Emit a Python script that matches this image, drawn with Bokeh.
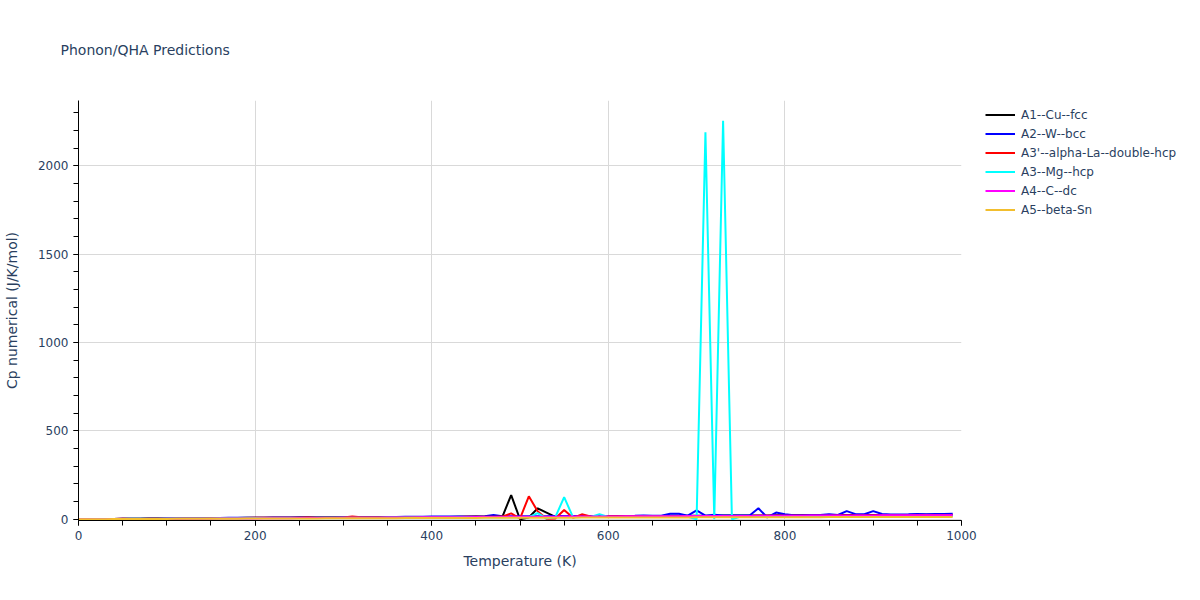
from bokeh.plotting import figure
from bokeh.models import Legend, LegendItem, SingleIntervalTicker, Range1d
from bokeh.embed import file_html
from bokeh.resources import INLINE

temperature = list(range(0, 1000, 10))

cu_fcc = [0, 0.5, 1, 1.5, 2, 2.5, 3, 3.5, 4, 4.5,
          5, 5, 5.5, 6, 6, 6.5, 7, 7, 7.5, 8,
          8, 8.5, 8.5, 9, 9, 9.5, 9.5, 10, 10, 10.5,
          10.5, 11, 11, 11.5, 11.5, 12, 12, 12.5, 12.5, 13,
          13, 13.5, 13.5, 14, 14, 15, 14.5, 15, 14, 137,
          0, 10, 62, 38, 14, 16, 16.5, 17, 17, 17.5,
          17.5, 18, 18, 18.5, 18.5, 19, 19, 19.5, 19.5, 20,
          20, 20.5, 20.5, 21, 21, 21.5, 21.5, 22, 22, 22.5,
          22.5, 23, 23, 23, 23.5, 23.5, 23.5, 24, 24, 24,
          24, 24.5, 24.5, 24.5, 24.5, 25, 25, 25, 25, 25]

w_bcc = [0, 0.5, 1, 1.5, 2, 2.5, 3, 3.5, 4, 4.5,
         5, 5.5, 6, 6.5, 7, 7, 7.5, 8, 8, 8.5,
         9, 9, 9.5, 10, 10, 10.5, 10.5, 11, 11, 11.5,
         12, 12, 12.5, 12.5, 13, 13, 13.5, 14, 14, 14.5,
         15, 15, 15.5, 15.5, 16, 16, 16.5, 24, 16.5, 17,
         17, 17, 17.5, 17.5, 18, 18, 18, 18.5, 18.5, 18.5,
         19, 19, 19, 19.5, 22, 19.5, 20, 31, 31, 20.5,
         50, 20.5, 26, 21, 21, 21.5, 21.5, 62, 10, 38,
         28, 23, 23, 23.5, 24, 28, 24, 46, 29, 28,
         46, 30, 27, 27.5, 28, 30, 29, 29.5, 30, 31]

la_dhcp = [0, 0.5, 1, 1.5, 2, 2.5, 3, 3.5, 4, 4.5,
           5, 5, 5.5, 6, 6, 6.5, 7, 7, 7.5, 7.5,
           8, 8, 8.5, 8.5, 9, 9, 9.5, 9.5, 10, 10,
           10.5, 16, 11, 11, 11.5, 11.5, 12, 12, 12.5, 12.5,
           13, 13, 13.5, 13.5, 14, 14, 14.5, 14.5, 15, 33,
           4, 130, 45, 3, 4, 52, 8, 28, 16, 16,
           16.5, 16.5, 17, 17, 17, 17.5, 17.5, 17.5, 18, 18,
           18, 18.5, 18.5, 18.5, 19, 19, 19, 19.5, 19.5, 19.5,
           20, 20, 20, 20.5, 20.5, 20.5, 21, 21, 21, 21.5,
           21.5, 21.5, 22, 22, 22, 22.5, 22.5, 22.5, 23, 23]

mg_hcp = [0, 0.5, 1, 1.5, 2, 2, 2.5, 3, 3, 3.5,
          4, 4, 4.5, 4.5, 5, 5, 5.5, 5.5, 6, 6,
          6.5, 6.5, 7, 7, 7, 7.5, 7.5, 8, 8, 8,
          8.5, 8.5, 9, 9, 9, 9.5, 9.5, 9.5, 10, 10,
          10, 10.5, 10.5, 11, 11, 11, 11.5, 11.5, 11.5, 12,
          12, 12, 35, 5, 12, 125, 12, 13, 13, 28,
          13, 13.5, 13.5, 13.5, 14, 14, 14, 14.5, 14.5, 14.5,
          0, 2190, 0, 2255, 0, 15, 15, 15.5, 15.5, 15.5,
          16, 16, 16, 16.5, 16.5, 16.5, 17, 17, 17, 17.5,
          17.5, 17.5, 18, 18, 18, 18.5, 18.5, 18.5, 19, 19]

c_dc = [0, 0.2, 0.4, 0.7, 0.9, 1.1, 1.3, 1.5, 1.8, 2.0,
        2.2, 2.5, 2.7, 3.0, 3.2, 3.5, 3.8, 4.1, 4.3, 4.6,
        5.0, 5.3, 5.6, 5.9, 6.1, 6.5, 6.8, 7.1, 7.3, 7.7,
        8.0, 8.2, 8.6, 8.9, 9.1, 9.5, 9.8, 10.0, 10.4, 10.7,
        11.0, 11.2, 11.6, 11.9, 12.1, 12.5, 12.8, 13.0, 13.4, 13.7,
        14.0, 14.1, 14.4, 14.6, 14.8, 15.0, 15.1, 15.4, 15.6, 15.8,
        16.0, 16.1, 16.4, 16.6, 16.8, 17.0, 17.1, 17.4, 17.6, 17.8,
        18.0, 18.1, 18.4, 18.6, 18.8, 19.0, 19.1, 19.4, 19.6, 19.8,
        20.0, 20.1, 20.4, 20.6, 20.8, 21.0, 21.1, 21.4, 21.6, 21.8,
        22.0, 22.1, 22.2, 22.3, 22.4, 22.5, 22.6, 22.7, 22.8, 22.9]

sn_beta = [0, 0.3, 0.5, 0.7, 0.9, 1.1, 1.3, 1.5, 1.7, 1.9,
           2.1, 2.3, 2.5, 2.6, 2.8, 3.0, 3.2, 3.3, 3.5, 3.7,
           3.9, 4.0, 4.2, 4.4, 4.5, 4.7, 4.9, 5.0, 5.2, 5.3,
           5.5, 5.7, 5.8, 6.0, 6.1, 6.3, 6.4, 6.6, 6.7, 6.9,
           7.0, 7.2, 7.3, 7.5, 7.6, 7.7, 7.9, 8.0, 8.1, 8.3,
           8.4, 8.5, 8.7, 8.8, 8.9, 9.0, 9.2, 9.3, 9.4, 9.5,
           9.6, 9.8, 9.9, 10.0, 10.1, 10.2, 10.3, 10.4, 10.5, 10.6,
           10.7, 10.8, 10.9, 11.0, 11.1, 11.2, 11.3, 11.4, 11.5, 11.6,
           11.7, 11.8, 11.9, 12.0, 12.1, 12.2, 12.3, 12.3, 12.4, 12.5,
           12.6, 12.7, 12.7, 12.8, 12.9, 13.0, 13.0, 13.1, 13.2, 13.3]

series_names = ["A1--Cu--fcc", "A2--W--bcc", "A3'--alpha-La--double-hcp",
                "A3--Mg--hcp", "A4--C--dc", "A5--beta-Sn"]
series_values = [cu_fcc, w_bcc, la_dhcp, mg_hcp, c_dc, sn_beta]
series_colors = ["#000000", "#0000ff", "#ff0000", "#00ffff", "#ff00ff", "#f2be2e"]

FONT = "DejaVu Sans"
TXT = "#2a3f5f"

p = figure(width=1184, height=584, output_backend="svg", toolbar_location=None,
           x_range=Range1d(0, 1000), y_range=Range1d(-7, 2370),
           frame_width=883, frame_height=420,
           min_border_left=72, min_border_top=100, min_border_right=229, min_border_bottom=64,
           title="Phonon/QHA Predictions")
p.outline_line_color = None
p.background_fill_color = "white"
p.border_fill_color = "white"

p.title.text_font = FONT
p.title.text_font_size = "14px"
p.title.text_font_style = "normal"
p.title.text_color = TXT
p.title.vertical_align = "top"
p.title.standoff = 82
p.title.offset = -18

p.xaxis.ticker = SingleIntervalTicker(interval=200, num_minor_ticks=4)
p.yaxis.ticker = SingleIntervalTicker(interval=500, num_minor_ticks=5)
p.xaxis.axis_label = "Temperature (K)"
p.yaxis.axis_label = "Cp numerical (J/K/mol)"
for ax in (p.xaxis, p.yaxis):
    ax.axis_line_color = "black"
    ax.axis_line_width = 1
    ax.major_tick_line_color = "black"
    ax.minor_tick_line_color = "black"
    ax.major_tick_in = 0
    ax.major_tick_out = 5
    ax.minor_tick_in = 0
    ax.minor_tick_out = 5
    ax.major_label_text_font = FONT
    ax.major_label_text_font_size = "12px"
    ax.major_label_text_color = TXT
    ax.axis_label_text_font = FONT
    ax.axis_label_text_font_size = "14px"
    ax.axis_label_text_font_style = "normal"
    ax.axis_label_text_color = TXT
p.xaxis.axis_label_standoff = 10
p.yaxis.axis_label_standoff = 15
p.yaxis.major_label_orientation = "horizontal"

p.xgrid.ticker = SingleIntervalTicker(interval=200)
p.ygrid.ticker = SingleIntervalTicker(interval=500)
p.grid.grid_line_color = "#d9d9d9"
p.grid.grid_line_width = 1

items = []
for name, vals, col in zip(series_names, series_values, series_colors):
    r = p.line(temperature, vals, line_color=col, line_width=2)
    items.append(LegendItem(label=name, renderers=[r]))

legend = Legend(items=items, location="top_left", orientation="vertical")
legend.background_fill_alpha = 0
legend.border_line_color = None
legend.padding = 5
legend.margin = 0
legend.spacing = 0
legend.glyph_width = 30
legend.glyph_height = 19
legend.label_height = 19
legend.label_standoff = 6
legend.label_text_font = FONT
legend.label_text_font_size = "12px"
legend.label_text_color = TXT
legend.location = (24, 301)
p.add_layout(legend, "right")

open("out.html", "w").write(file_html(p, INLINE))
